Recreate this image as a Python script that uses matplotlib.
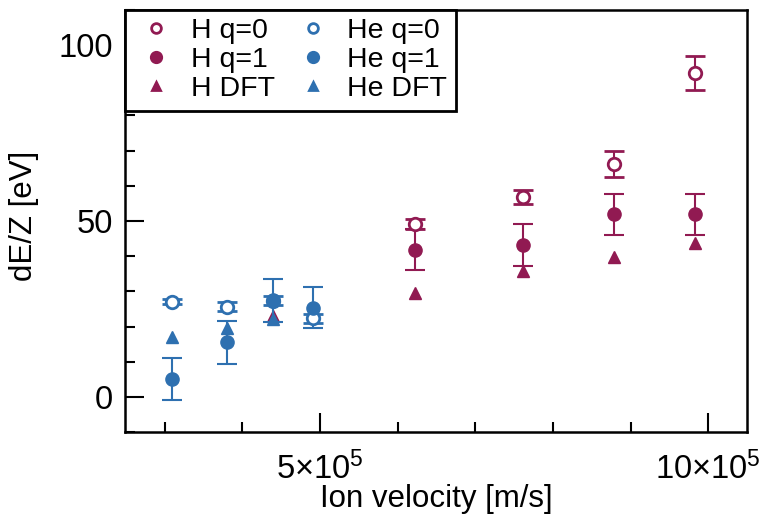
import matplotlib
matplotlib.use("Agg")
import matplotlib.pyplot as plt
from matplotlib.lines import Line2D
from matplotlib.ticker import FixedLocator, MultipleLocator

plt.rcParams["font.family"] = ["Liberation Sans", "DejaVu Sans"]
plt.rcParams["mathtext.fontset"] = "custom"
plt.rcParams["mathtext.rm"] = "Liberation Sans"
plt.rcParams["mathtext.it"] = "Liberation Sans"

H_COLOR = "#911a52"
HE_COLOR = "#2e70b0"

# H, charge-state 0 / 1 (velocity in 1e5 m/s)
h_v = [6.22, 7.62, 8.79, 9.83]
h_q0 = [49.1, 56.8, 66.2, 92.0]
h_q0_err = [1.4, 2.1, 3.8, 4.9]
h_q1 = [41.8, 43.2, 51.9, 51.9]
h_q1_err = [5.8, 6.0, 5.8, 5.8]

# H DFT
h_dft_v = [4.39, 6.22, 7.62, 8.79, 9.83]
h_dft = [23.0, 29.6, 35.8, 39.9, 43.7]

# He, charge-state 0 / 1
he_v = [3.10, 3.80, 4.39, 4.91]
he_q0 = [27.1, 25.6, 27.4, 22.3]
he_q0_err = [0.8, 1.3, 1.3, 1.4]
he_q1 = [5.0, 15.5, 27.5, 25.4]
he_q1_err = [6.0, 6.0, 6.1, 5.9]

# He DFT
he_dft_v = [3.10, 3.80, 4.39]
he_dft = [17.1, 19.7, 22.2]

fig = plt.figure(figsize=(7.67, 5.2), dpi=100)
ax = fig.add_axes([0.163, 0.169, 0.811, 0.812])

eb = dict(capsize=7, elinewidth=1.5, capthick=1.5, linestyle="none")

ax.errorbar([v * 1e5 for v in h_v], h_q0, yerr=h_q0_err, fmt="o", ms=9,
            mfc="white", mec=H_COLOR, mew=2, color=H_COLOR, **eb)
ax.errorbar([v * 1e5 for v in h_v], h_q1, yerr=h_q1_err, fmt="o", ms=9.5,
            color=H_COLOR, **eb)
ax.plot([v * 1e5 for v in h_dft_v], h_dft, "^", ms=8, color=H_COLOR,
        linestyle="none")
ax.errorbar([v * 1e5 for v in he_v], he_q0, yerr=he_q0_err, fmt="o", ms=9,
            mfc="white", mec=HE_COLOR, mew=2, color=HE_COLOR, **eb)
ax.errorbar([v * 1e5 for v in he_v], he_q1, yerr=he_q1_err, fmt="o", ms=9.5,
            color=HE_COLOR, **eb)
ax.plot([v * 1e5 for v in he_dft_v], he_dft, "^", ms=8, color=HE_COLOR,
        linestyle="none")

ax.set_xlim(2.49e5, 10.5e5)
ax.set_ylim(-10, 110)

ax.xaxis.set_major_locator(FixedLocator([5e5, 10e5]))
ax.set_xticklabels([r"5×10$^{5}$", r"10×10$^{5}$"])
ax.xaxis.set_minor_locator(MultipleLocator(1e5))
ax.yaxis.set_major_locator(FixedLocator([0, 50, 100]))
ax.yaxis.set_minor_locator(MultipleLocator(10))

ax.tick_params(which="both", direction="in", width=1.5, labelsize=23.5,
               top=False, right=False)
ax.tick_params(axis="x", pad=14)
ax.tick_params(axis="y", pad=9)
ax.tick_params(which="major", length=14)
ax.tick_params(which="minor", length=7)
for s in ax.spines.values():
    s.set_linewidth(1.8)

ax.set_xlabel("Ion velocity [m/s]", fontsize=22.5)
ax.set_ylabel("dE/Z [eV]", fontsize=22.5)
ax.xaxis.set_label_coords(0.5, -0.122)
ax.yaxis.set_label_coords(-0.138, 0.512)


def mk(marker, color, filled, ms):
    return Line2D([], [], linestyle="none", marker=marker, ms=ms, mew=2,
                  mec=color, mfc=color if filled else "white")


handles = [
    mk("o", H_COLOR, False, 7), mk("o", H_COLOR, True, 7.5), mk("^", H_COLOR, True, 5.5),
    mk("o", HE_COLOR, False, 7), mk("o", HE_COLOR, True, 7.5), mk("^", HE_COLOR, True, 5.5),
]
labels = ["H q=0", "H q=1", "H DFT", "He q=0", "He q=1", "He DFT"]
leg = ax.legend(handles, labels, ncol=2, loc="upper left", fontsize=20.5,
                frameon=True, fancybox=False, borderaxespad=0.0,
                handletextpad=0.4, columnspacing=0.55, labelspacing=0.1,
                handlelength=1.6, borderpad=0.3)
leg.get_frame().set_edgecolor("black")
leg.get_frame().set_linewidth(2)
leg.get_frame().set_alpha(1)

fig.savefig("out.png", dpi=100)
